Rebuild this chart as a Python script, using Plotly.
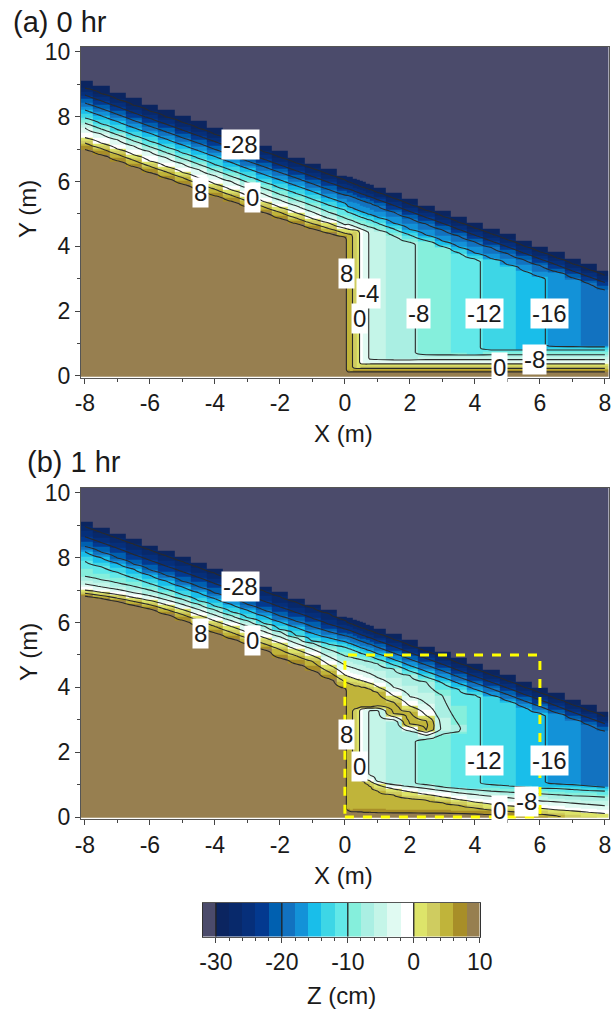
import numpy as np
import plotly.graph_objects as go

# ---------- colour bins (2 cm wide, from the colour bar) ----------
CB_CENTRES = [-31,-29,-27,-25,-23,-21,-19,-17,-15,-13,-11,-9,-7,-5,-3,-1,1,3,5,7,9]
CB_COLOURS = ["#4B4B6B","#0B2560","#08296B","#062F7A","#03398F","#0060B0",
              "#1272C0","#1392D8","#19BEEA","#3DD6E6","#62E8E8",
              "#85EFDC","#AAEFE3","#C4F5E8","#E0FAF2","#FFFFFF",
              "#DDE46A","#CFCC60","#C0B43A","#A88E28","#977F50"]
CB_LINES = [-30,-20,-10,0]
CB_TICKS = [-30,-20,-10,0,10]
CB_MINOR = list(range(-30,11,2))
ZMIN, ZMAX = -32, 10

X_TICKS = [-8,-6,-4,-2,0,2,4,6,8]
X_MINOR = [-7,-5,-3,-1,1,3,5,7]
Y_TICKS = [0,2,4,6,8,10]
Y_MINOR = [1,3,5,7,9]

# columns at which contour heights were read
X_LEFT  = [-8,-7.5,-7,-6.5,-6,-5.5,-5,-4.5,-4,-3.5,-3,-2.5,-2,-1.5,-1,-.5,0]
X_RIGHT = [.1,.2,.3,.4,.5,.6,.7,.8,1,1.5,2,2.5,3,3.5,4,4.5,5,5.5,6,6.5,7,7.5,8]
# plateau depth to the right of the step
PLATEAU = [5.5,4.5,3,1,-1,-3,-3.8,-4.4,-5,-7,-7.5,-9,-9.5,-11,-11.5,-13,-13.5,-15,-15.5,-17,-17.5,-19,-19.5]

def row(start, vals):
    i = X_RIGHT.index(start)
    return [None]*i + list(vals) + [None]*(len(X_RIGHT)-i-len(vals))

# shared upper slope, right of x=0
R_M30 = row(.1,[6.15,6.12,6.08,6.04,6.0,5.97,5.93,5.9,5.82,5.64,5.45,5.27,5.09,4.9,4.72,4.54,4.36,4.17,3.99,3.81,3.62,3.44,3.26])
R_M28 = row(.1,[5.99,5.96,5.92,5.88,5.84,5.81,5.77,5.74,5.66,5.48,5.29,5.11,4.93,4.74,4.56,4.38,4.2,4.01,3.83,3.65,3.46,3.28,3.1])
R_M24 = row(.1,[5.77,5.74,5.7,5.66,5.62,5.59,5.55,5.52,5.44,5.26,5.07,4.89,4.71,4.52,4.34,4.16,3.98,3.79,3.61,3.43,3.24,3.06,2.88])
R_M20 = row(.1,[5.57,5.54,5.5,5.46,5.42,5.39,5.35,5.32,5.24,5.06,4.87,4.69,4.51,4.32,4.14,3.96,3.78,3.59,3.41,3.21,3.02,2.84,2.66])
L_M30 = [9.11,8.93,8.75,8.56,8.38,8.2,8.02,7.84,7.65,7.47,7.28,7.1,6.92,6.74,6.56,6.37,6.19]

# ---------- panel (a): height of each contour level ----------
A_LEFT = {
 -28:[8.88,8.71,8.53,8.35,8.17,7.99,7.82,7.64,7.45,7.28,7.09,6.92,6.74,6.57,6.4,6.22,6.05],
 -24:[8.67,8.49,8.31,8.12,7.95,7.77,7.59,7.41,7.23,7.05,6.87,6.69,6.51,6.33,6.15,5.97,5.79],
 -20:[8.42,8.25,8.07,7.88,7.7,7.53,7.35,7.18,6.99,6.82,6.63,6.46,6.28,6.11,5.93,5.75,5.58],
 -16:[8.21,8.03,7.85,7.66,7.49,7.31,7.13,6.95,6.77,6.59,6.4,6.22,6.05,5.87,5.69,5.5,5.33],
 -12:[7.96,7.78,7.6,7.42,7.24,7.06,6.88,6.71,6.52,6.34,6.16,5.98,5.8,5.63,5.45,5.27,5.12],
 -8:[7.8,7.62,7.44,7.25,7.07,6.89,6.71,6.53,6.34,6.16,5.97,5.79,5.6,5.43,5.25,5.05,4.87],
 -4:[7.65,7.47,7.29,7.1,6.92,6.74,6.55,6.37,6.18,6.0,5.8,5.62,5.43,5.25,5.06,4.86,4.66],
 0:[7.35,7.18,7.0,6.82,6.63,6.46,6.28,6.1,5.92,5.74,5.56,5.38,5.2,5.03,4.85,4.72,4.56],
 4:[7.19,7.02,6.84,6.66,6.47,6.3,6.12,5.94,5.76,5.58,5.4,5.22,5.05,4.87,4.7,4.55,4.4],
 8:[6.98,6.82,6.64,6.46,6.27,6.1,5.92,5.75,5.56,5.39,5.21,5.04,4.86,4.7,4.54,4.4,4.28],
}
A_RIGHT = {
 -16:row(.1,[5.22,5.19,5.15,5.11,5.07,5.04,5.0,4.97,4.89,4.71,4.52,4.34,4.16,3.97,3.79,3.61,3.43,3.24,3.06]),
 -12:row(.1,[5.05,5.02,4.98,4.94,4.9,4.87,4.83,4.8,4.72,4.54,4.35,4.17,3.99,3.8,3.62]),
 -8:row(.1,[4.83,4.8,4.76,4.72,4.68,4.65,4.61,4.58,4.5,4.32,4.13]),
 -4:row(.1,[4.68,4.65,4.61,4.57,4.53,4.5,4.46]),
 0:row(.1,[4.53,4.51,4.5,4.48]),
 4:row(.1,[4.38,4.36]),
}
A_LOW_LEVELS = [8,4,0,-4,-8,-12,-16]
A_LOW_HEIGHTS = [.13,.23,.37,.5,.65,.8,.9]

# ---------- panel (b) ----------
B_LEFT = {
 -28:[8.96,8.78,8.6,8.42,8.24,8.06,7.88,7.7,7.52,7.34,7.15,6.98,6.8,6.63,6.46,6.28,6.07],
 -24:[8.65,8.47,8.29,8.1,7.92,7.74,7.57,7.39,7.2,7.02,6.84,6.66,6.48,6.31,6.13,5.95,5.8],
 -20:[8.34,8.17,7.99,7.8,7.62,7.45,7.27,7.1,6.91,6.74,6.56,6.38,6.2,6.04,5.87,5.72,5.59],
 -16:[8.19,8.0,7.83,7.65,7.46,7.28,7.1,6.92,6.74,6.56,6.38,6.2,6.02,5.85,5.67,5.53,5.41],
 -12:[7.88,7.72,7.55,7.37,7.2,7.03,6.85,6.67,6.5,6.33,6.15,5.97,5.78,5.6,5.42,5.33,5.24],
 -8:[7.42,7.32,7.22,7.12,7.0,6.86,6.72,6.56,6.39,6.22,6.06,5.9,5.72,5.54,5.37,5.17,4.97],
 -4:[7.19,7.1,7.02,6.92,6.83,6.7,6.56,6.4,6.23,6.06,5.89,5.73,5.56,5.36,5.18,4.95,4.69],
 0:[7.0,6.93,6.86,6.77,6.68,6.55,6.4,6.23,6.05,5.88,5.7,5.54,5.37,5.17,4.98,4.7,4.38],
 4:[6.9,6.83,6.75,6.65,6.55,6.4,6.25,6.07,5.88,5.7,5.52,5.35,5.17,4.98,4.8,4.48,4.17],
 8:[6.82,6.75,6.65,6.53,6.42,6.25,6.07,5.88,5.68,5.5,5.33,5.16,4.9,4.72,4.52,4.27,3.97],
}
B_RIGHT = {
 -16:row(.1,[5.37,5.34,5.3,5.26,5.22,5.19,5.15,5.12,5.04,4.86,4.67,4.49,4.31,4.12,3.94,3.76,3.58,3.39,3.21]),
 -12:row(.1,[5.2,5.17,5.13,5.09,5.05,5.02,4.98,4.95,4.87,4.69,4.5,4.32,4.14,3.95,3.77]),
 -8:row(.1,[4.95,4.93,4.9,4.88,4.86,4.83,4.81,4.79,4.74,4.57,4.37,4.17,3.75,2.85]),
 -4:row(.1,[4.65,4.62,4.59,4.55,4.52,4.49,4.45,4.41,4.3,4.0,3.72,3.5]),
 0:row(.1,[4.34,4.3,4.27,4.24,4.21,4.18,4.15,4.12,4.02,3.74,3.42,3.13]),
 4:row(.1,[4.13,4.1,4.07,4.05,4.02,4.0,3.97,3.95,3.85,3.55,3.25,2.98]),
}
B_LOW = {
 8:row(.1,[.2,.18,.17,.16,.16,.15,.15,.15,.14,.13,.13,.12,.12,.11,.1,.07]),
 6:row(.3,[.24,.24,.24,.24,.24,.24,.24,.23,.22,.21,.2,.19,.18,.16,.13]),
 4:row(.3,[1.35,1.28,1.2,1.1,1.02,.95,.82,.68,.58,.52,.44,.36,.28,.21,.17,.13,.09,.04]),
 0:row(.5,[1.27,1.22,1.15,1.09,1.0,.87,.78,.7,.62,.54,.46,.4,.35,.3,.27,.22,.19,.15,.11]),
 -4:row(.8,[1.28,1.1,1.0,.95,.88,.82,.75,.7,.64,.6,.55,.5,.47,.43,.39,.35]),
 -8:row(2.5,[1.0,.93,.88,.84,.8,.77,.74,.72,.69,.66,.64,.62]),
 -12:row(4.5,[1.0,.97,.93,.9,.88,.85,.82,.8]),
 -16:row(6.5,[1.02,1.0,.96,.92]),
}
B_BOTTOM = row(5,[7.5,6.8,6,4.4,3,2.2,1.5])
# underside of the rolled-up yellow arm: level -> {column: height}
B_RISE = {
 -8:{2.5:2.4,3:2.55,3.5:2.62},
 -4:{.8:3.3,1:3.3,1.5:3.0,2:2.65,2.5:2.52},
 0:{.5:3.34,.6:3.35,.7:3.36,.8:3.36,1:3.36,1.5:3.1,2:2.78,2.5:2.62},
 4:{.3:3.33,.4:3.36,.5:3.38,.6:3.39,.7:3.4,.8:3.4,1:3.42,1.5:3.18,2:2.86,2.5:2.68},
}
B_PEAK = {.3:(5.5,3.6),.4:(5.8,3.65),.5:(5.8,3.65),.6:(5.8,3.65),.7:(5.8,3.65),.8:(5.8,3.65),
          1:(5.8,3.62),1.5:(5.6,3.38),2:(5.5,3.05),2.5:(5,2.83),3:(-5,2.72),3.5:(-7.5,2.73)}

LEVELS_DOWN = [8,6,4,0,-4,-8,-12,-16,-20,-24,-28]
Y_GRID = np.arange(0,10.24,0.04)
X_ALL = X_LEFT + X_RIGHT

def column_a_b(x, low, top_rows, plateau, z0, rise=None, peak=None):
    ky, kz = [0.0], [z0]
    for L in LEVELS_DOWN:
        if L in low and low[L] is not None and L > plateau:
            ky.append(low[L]); kz.append(L)
    start = ky[-1] + .05 if len(ky) > 1 else 0.02
    ky.append(start); kz.append(plateau)
    top = plateau
    risers = []
    if rise:
        for L in sorted(rise):
            if x in rise[L] and L > plateau:
                risers.append((rise[L][x], L))
    if peak:
        top = peak[0]
    ups = [(top_rows[L], L) for L in LEVELS_DOWN if top_rows.get(L) is not None and L < top]
    first = risers[0][0] if risers else ups[0][0]
    ky.append(first - .07); kz.append(plateau)
    for y, L in risers:
        ky.append(y); kz.append(L)
    if peak:
        ky.append(peak[1]); kz.append(peak[0])
    for y, L in ups:
        ky.append(y); kz.append(L)
    t = top_rows["top"]
    ky += [t, t + .005, 99]; kz += [-30, -31, -31]
    order = np.argsort(ky, kind="stable")
    return np.interp(Y_GRID, np.array(ky)[order], np.array(kz)[order])

def field(left, right, low_lookup, bottom=None, rise=None, peak=None):
    cols = []
    for i, x in enumerate(X_LEFT):
        rows = {L: left[L][i] for L in left}
        rows["top"] = L_M30[i]
        cols.append(column_a_b(x, {}, rows, 10, 10))
    shared = {-28:R_M28,-24:R_M24,-20:R_M20}
    for j, x in enumerate(X_RIGHT):
        rows = {L: right[L][j] for L in right}
        rows.update({L: shared[L][j] for L in shared})
        rows["top"] = R_M30[j]
        low = {L: low_lookup[L][j] for L in low_lookup}
        z0 = bottom[j] if bottom and bottom[j] is not None else 10
        cols.append(column_a_b(x, low, rows, PLATEAU[j], z0, rise, peak.get(x) if peak else None))
    return np.array(cols).T

A_LOW = {L:[h]*len(X_RIGHT) for L,h in zip(A_LOW_LEVELS,A_LOW_HEIGHTS)}
Z_A = field(A_LEFT, A_RIGHT, A_LOW)
Z_B = field(B_LEFT, B_RIGHT, B_LOW, B_BOTTOM, B_RISE, B_PEAK)

# contour labels
LAB_A_TXT = ["-28","8","0","8","-4","0","-8","-12","-16","0","-8"]
LAB_A_X = [-3.2,-4.43,-2.83,.06,.74,.46,2.25,4.28,6.28,4.77,5.82]
LAB_A_Y = [7.13,5.65,5.5,3.15,2.53,1.76,1.94,1.94,1.94,.25,.52]
LAB_B_TXT = ["-28","8","0","8","0","-12","-16","-8","0"]
LAB_B_X = [-3.2,-4.43,-2.83,.06,.46,4.28,6.28,5.6,4.77]
LAB_B_Y = [7.1,5.65,5.46,2.56,1.57,1.76,1.76,.49,.2]

W, H = 614, 1010
def xd(a,b): return [a/W,b/W]
def yd(top,bot): return [1-bot/H,1-top/H]

scale = []
n = len(CB_COLOURS)
for i,c in enumerate(CB_COLOURS):
    scale += [[i/n,c],[(i+1)/n,c]]

fig = go.Figure()
for Z,xa,ya in [(Z_A,"x","y"),(Z_B,"x2","y2")]:
    fig.add_trace(go.Heatmap(x=X_ALL,y=Y_GRID,z=Z,zmin=ZMIN,zmax=ZMAX,colorscale=scale,
                             showscale=False,xaxis=xa,yaxis=ya,hoverinfo="skip"))
    fig.add_trace(go.Contour(x=X_ALL,y=Y_GRID,z=Z,xaxis=xa,yaxis=ya,showscale=False,hoverinfo="skip",
                             contours=dict(start=-28,end=8,size=4,coloring="none"),
                             line=dict(color="#2a2a2a",width=1.1,smoothing=0.6)))
fig.add_trace(go.Heatmap(x=CB_CENTRES,y=[0.5],z=[CB_CENTRES],zmin=ZMIN,zmax=ZMAX,colorscale=scale,
                         showscale=False,xaxis="x3",yaxis="y3",hoverinfo="skip"))
for v in CB_LINES:
    fig.add_trace(go.Scatter(x=[v,v],y=[0,1],mode="lines",line=dict(color="#222",width=1.3),
                             xaxis="x3",yaxis="y3",showlegend=False,hoverinfo="skip"))

FAM = "Liberation Sans, Arial, sans-serif"
FONT = dict(family=FAM,size=23,color="#1a1a1a")
def axis(domain,rng,vals,minor,anchor):
    return dict(domain=domain,range=rng,anchor=anchor,tickmode="array",tickvals=vals,automargin=False,
                ticktext=[str(v) for v in vals],ticks="outside",ticklen=5,tickwidth=1.2,tickcolor="#444",
                minor=dict(tickmode="array",tickvals=minor,ticks="outside",ticklen=3,tickwidth=1,tickcolor="#444"),
                showline=True,mirror=True,linecolor="#555",linewidth=1.2,showgrid=False,zeroline=False,
                tickfont=FONT)

XR = [-8.12,8.11]
fig.update_layout(
    width=W,height=H,autosize=False,margin=dict(l=0,r=0,t=0,b=0),
    paper_bgcolor="white",plot_bgcolor="white",showlegend=False,font=FONT,
    xaxis=axis(xd(81,608.5),XR,X_TICKS,X_MINOR,"y"),
    yaxis=axis(yd(47,377.5),[-.05,10.15],Y_TICKS,Y_MINOR,"x"),
    xaxis2=axis(xd(81,608.5),XR,X_TICKS,X_MINOR,"y2"),
    yaxis2=axis(yd(488,819),[-.06,10.15],Y_TICKS,Y_MINOR,"x2"),
    xaxis3=axis(xd(202.7,479.7),[-32,10],CB_TICKS,CB_MINOR,"y3"),
    yaxis3=dict(domain=yd(902.7,936.7),range=[0,1],anchor="x3",showticklabels=False,ticks="",automargin=False,
                showline=True,mirror=True,linecolor="#333",linewidth=1.2,showgrid=False,zeroline=False),
    shapes=[dict(type="rect",xref="x2",yref="y2",x0=0,x1=6,y0=0,y1=5,
                 line=dict(color="#FFFF00",width=3,dash="dash"),layer="above")],
)
def paper(text,px,py,size,xanchor="center",angle=0):
    return dict(text=text,x=px/W,y=1-py/H,xref="paper",yref="paper",xanchor=xanchor,yanchor="middle",
                showarrow=False,textangle=angle,font=dict(family=FAM,size=size,color="#1a1a1a"))
ann = [paper("(a) 0 hr",11,22,29,"left"),paper("(b) 1 hr",25,462,29,"left"),
       paper("X (m)",343,434,24),paper("X (m)",343,875,24),
       paper("Y (m)",28,209,24,angle=-90),paper("Y (m)",28,652,24,angle=-90),
       paper("Z (cm)",341,995,24)]
for tx,xs,ys,xr,yr in [(LAB_A_TXT,LAB_A_X,LAB_A_Y,"x","y"),(LAB_B_TXT,LAB_B_X,LAB_B_Y,"x2","y2")]:
    for t,a,b in zip(tx,xs,ys):
        ann.append(dict(text=t,x=a,y=b,xref=xr,yref=yr,showarrow=False,bgcolor="white",borderpad=1,
                        font=dict(family=FAM,size=24,color="#1a1a1a")))
fig.update_layout(annotations=ann)
fig.write_html("out.html",config=dict(displayModeBar=False),
               post_script="document.body.style.margin='0';document.documentElement.style.overflow='hidden';")
